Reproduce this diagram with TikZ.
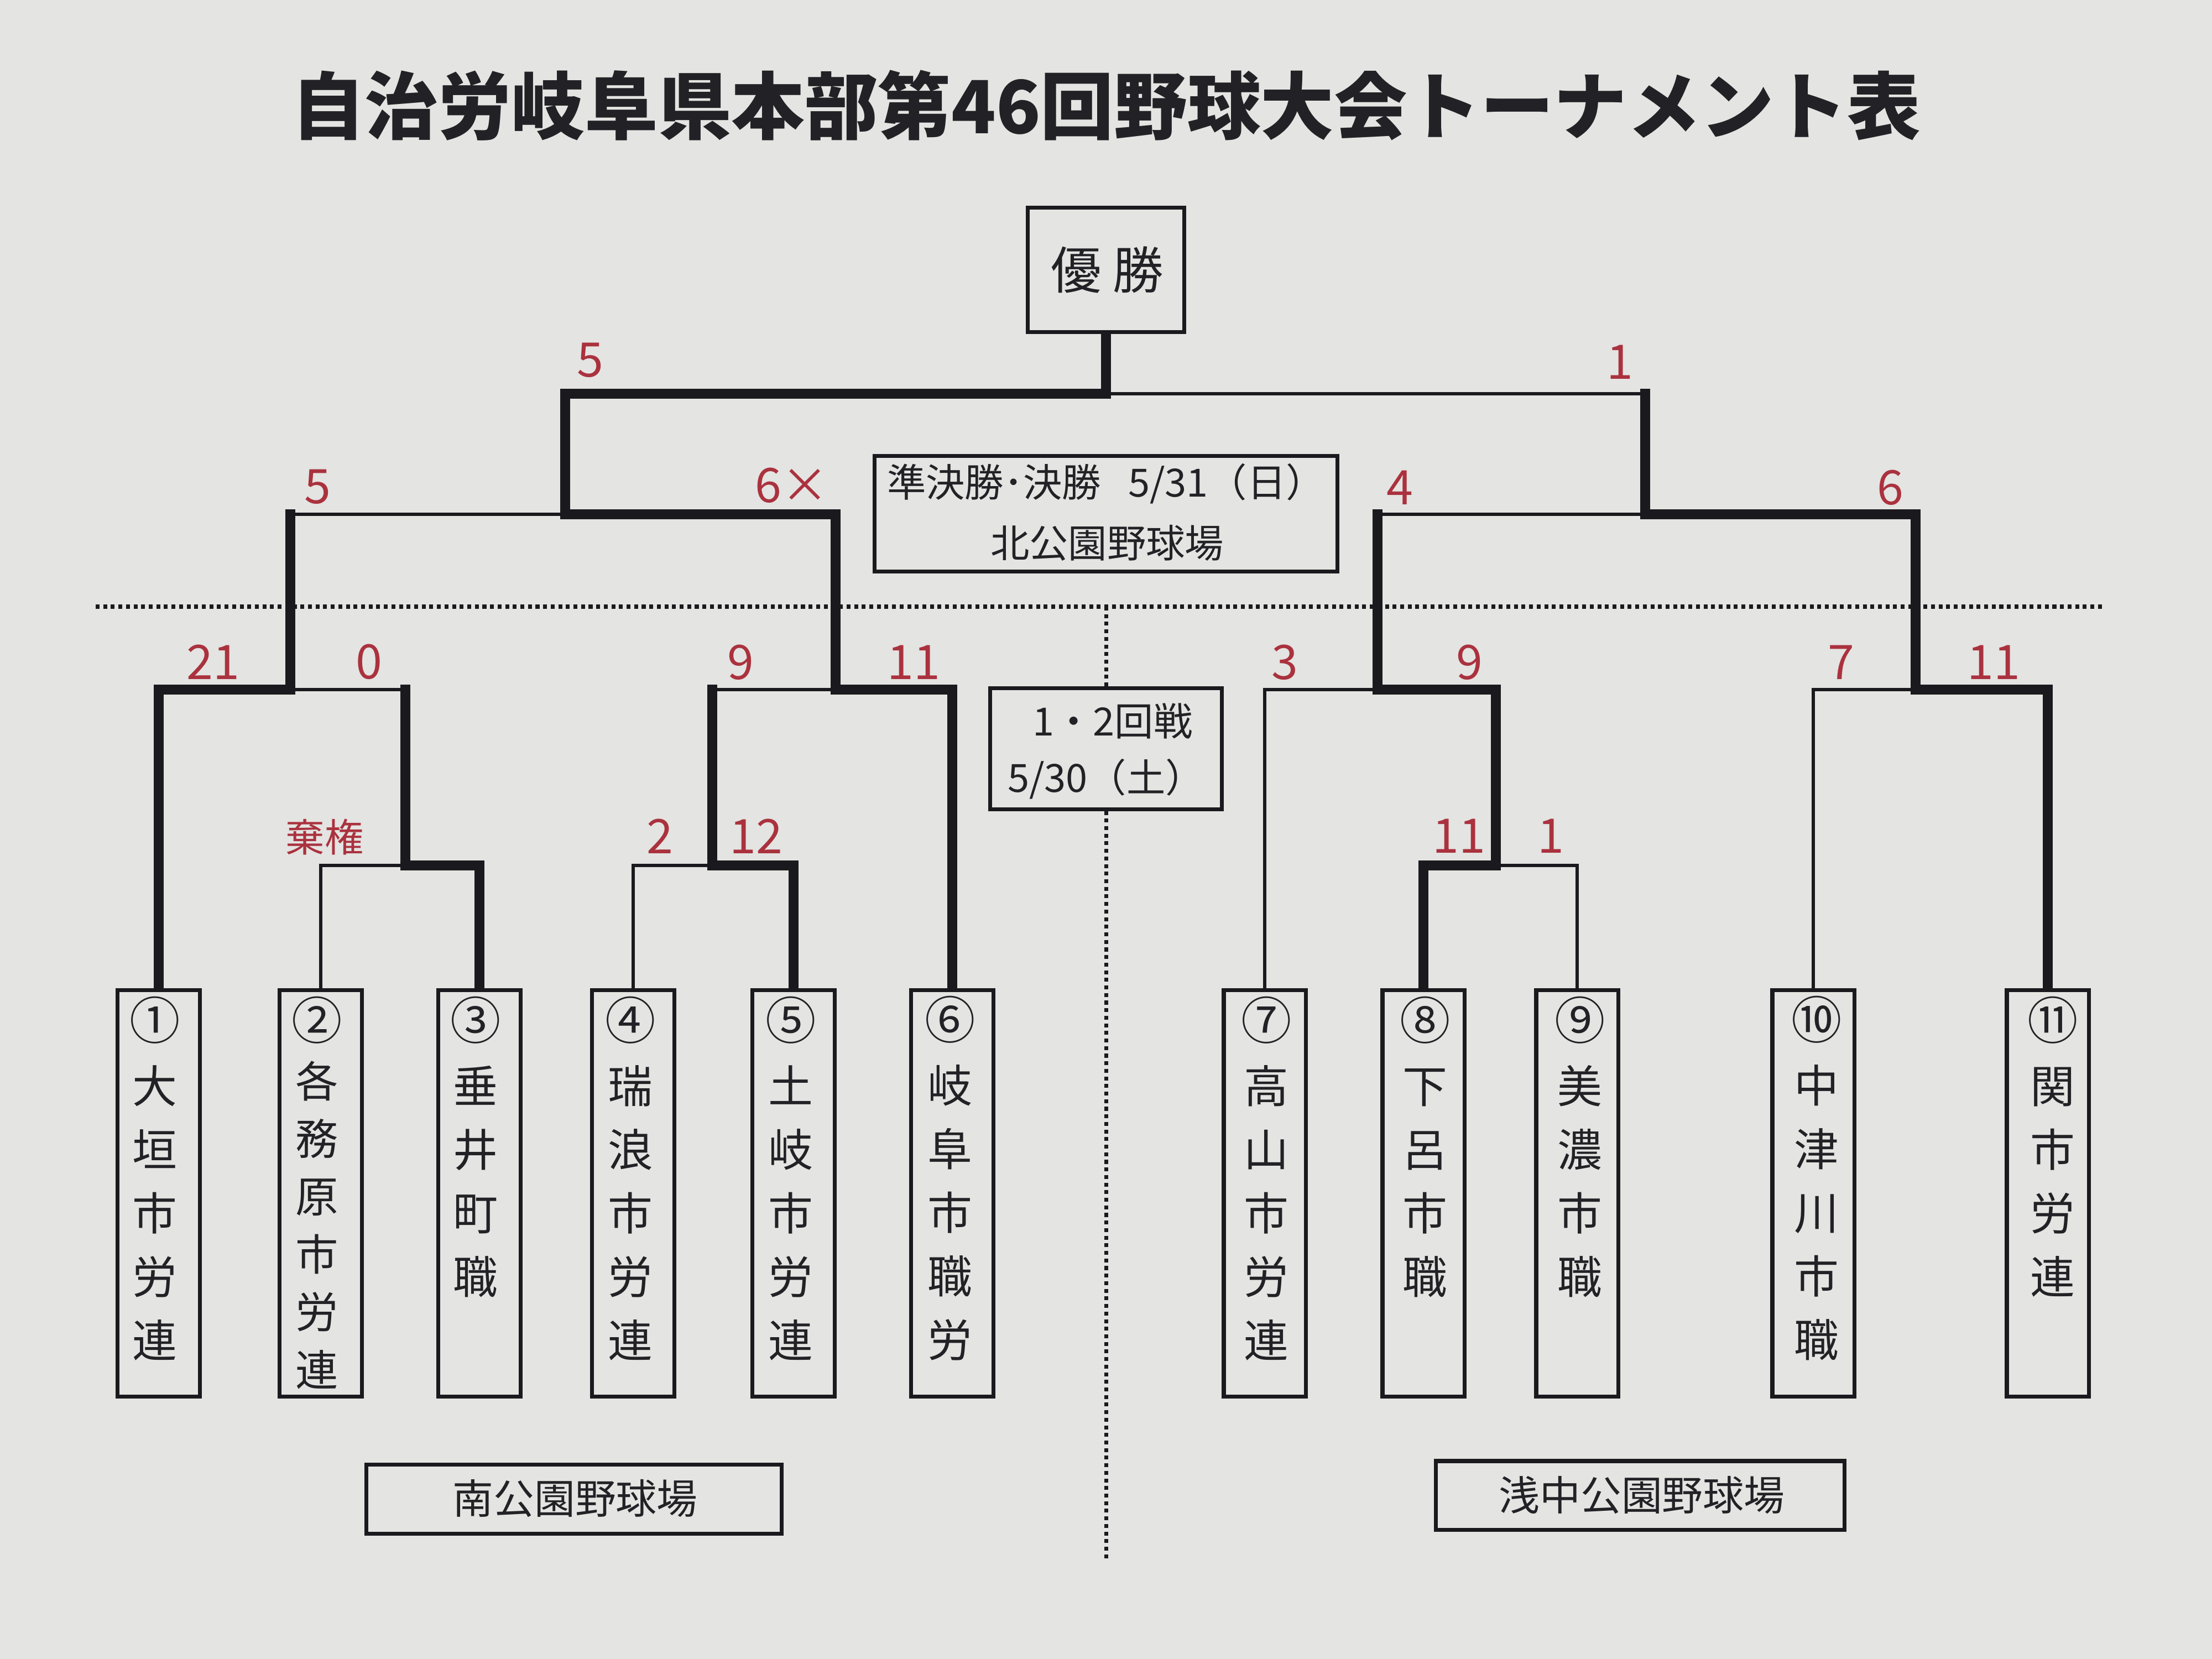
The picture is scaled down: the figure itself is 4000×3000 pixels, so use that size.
\documentclass[tikz,border=0pt]{standalone}
\usepackage{fontspec}
\newfontfamily\cjk{Noto Sans CJK JP}
\usetikzlibrary{calc}
\definecolor{paper}{RGB}{228,228,226}
\definecolor{ink}{RGB}{26,26,30}
\definecolor{txt}{RGB}{34,34,38}
\definecolor{scorered}{RGB}{170,50,62}
\newcommand\fsz[2]{\fontsize{#1}{#2}\selectfont}
\newcommand\circnum[1]{{\fontsize{26}{32}\selectfont #1}}
\pgfdeclarelayer{paperlayer}
\pgfdeclarelayer{lines}
\pgfsetlayers{paperlayer,lines,main}
\begin{document}
\begin{tikzpicture}[x=0.01cm,y=-0.01cm,
  win/.style={draw=ink,line width=5pt,line cap=rect,line join=miter},
  lose/.style={draw=ink,line width=1.8pt,line cap=rect,line join=miter},
  dots/.style={draw=ink,line width=2pt,dash pattern=on 2pt off 1.9pt},
  teambox/.style={draw=ink,fill=paper,line width=2pt,minimum width=1.48cm,minimum height=7.35cm,inner sep=0pt},
  teamname/.style={font=\cjk\fsz{23}{32.7},text=txt,align=center,inner sep=0pt},
  teamnamesm/.style={font=\cjk\fsz{22}{29.7},text=txt,align=center,inner sep=0pt},
  infobox/.style={draw=ink,fill=paper,line width=2pt,inner sep=0pt},
  info/.style={font=\cjk\fsz{20}{24},text=txt,inner sep=0pt},
  score/.style={font=\cjk\fsz{24.5}{28},text=scorered,inner sep=0pt},
  scoresm/.style={font=\cjk\fsz{20}{24},text=scorered,inner sep=0pt}]

\begin{pgfonlayer}{paperlayer}
\fill[paper] (0,0) rectangle (4000,3000);
\end{pgfonlayer}
\useasboundingbox (0,0) rectangle (4000,3000);

% title
\node[font=\cjk\bfseries\fsz{37.7}{40},text=txt,inner sep=0pt] (title) at (2000,191) {自治労岐阜県本部第46回野球大会トーナメント表};

% champion box
\node[infobox,minimum width=2.83cm,minimum height=2.24cm] (champ) at (2000,488) {};
\node[font=\cjk\fsz{26}{30},text=txt,inner sep=0pt] (champtxt) at (2002,488) {優 勝};

% info boxes
\node[infobox,minimum width=8.36cm,minimum height=2.09cm] (sfbox) at (2000,929) {};
\node[info] (sf1) at (2000,875) {準決勝･決勝\hspace{0.7em}5/31（日）};
\node[info] (sf2) at (2002,982) {北公園野球場};

\node[infobox,minimum width=4.18cm,minimum height=2.18cm] (rnd) at (2000,1354) {};
\node[info] (rnd1) at (2012,1304) {1・2回戦};
\node[info] (rnd2) at (2000,1409) {5/30（土）};

\node[infobox,minimum width=7.5cm,minimum height=1.25cm] (south) at (1038,2711) {};
\node[info,font=\cjk\fsz{21}{24}] (southtxt) at (1040,2710) {南公園野球場};
\node[infobox,minimum width=7.38cm,minimum height=1.24cm] (asanaka) at (2966,2704) {};
\node[info,font=\cjk\fsz{21}{24}] (asanakatxt) at (2969,2704) {浅中公園野球場};

% team boxes
\node[teambox] (t1) at (287,2158) {};
\node[teambox] (t2) at (580,2158) {};
\node[teambox] (t3) at (867,2158) {};
\node[teambox] (t4) at (1145,2158) {};
\node[teambox] (t5) at (1435,2158) {};
\node[teambox] (t6) at (1722,2158) {};
\node[teambox] (t7) at (2287,2158) {};
\node[teambox] (t8) at (2574,2158) {};
\node[teambox] (t9) at (2852,2158) {};
\node[teambox] (t10) at (3279,2158) {};
\node[teambox] (t11) at (3703,2158) {};

\node[teamname] (n1) at (280,2131) {\circnum{①}\\大\\垣\\市\\労\\連};
\node[teamnamesm] (n2) at (573,2157) {\circnum{②}\\各\\務\\原\\市\\労\\連};
\node[teamname] (n3) at (860,2074) {\circnum{③}\\垂\\井\\町\\職};
\node[teamname] (n4) at (1140,2131) {\circnum{④}\\瑞\\浪\\市\\労\\連};
\node[teamname] (n5) at (1430,2131) {\circnum{⑤}\\土\\岐\\市\\労\\連};
\node[teamname] (n6) at (1718,2131) {\circnum{⑥}\\岐\\阜\\市\\職\\労};
\node[teamname] (n7) at (2290,2131) {\circnum{⑦}\\高\\山\\市\\労\\連};
\node[teamname] (n8) at (2577,2074) {\circnum{⑧}\\下\\呂\\市\\職};
\node[teamname] (n9) at (2857,2074) {\circnum{⑨}\\美\\濃\\市\\職};
\node[teamname] (n10) at (3285,2131) {\circnum{⑩}\\中\\津\\川\\市\\職};
\node[teamname] (n11) at (3712,2074) {\circnum{⑪}\\関\\市\\労\\連};

% junctions
\coordinate (a23) at (733,1565);
\coordinate (a45) at (1288,1565);
\coordinate (a89) at (2705,1565);
\coordinate (b1) at (525,1247);
\coordinate (b2) at (1511,1247);
\coordinate (b3) at (2491,1247);
\coordinate (b4) at (3464,1247);
\coordinate (c1) at (1022,930);
\coordinate (c2) at (2975,930);
\coordinate (d) at (2000,712);
\coordinate (dotL) at (173,1097);
\coordinate (dotR) at (3806,1097);
\coordinate (dotM) at (2000,1097);
\coordinate (dotB) at (2000,2819);

\begin{pgfonlayer}{lines}
\draw[dots] (dotL) -- (dotR);
\draw[dots] (dotM) -- (rnd.north);
\draw[dots] (rnd.south) -- (dotB);

\draw[lose] (t2.north) |- (a23);
\draw[win] (t3.north) |- (a23);
\draw[win] (a23) -- (a23 |- b1);
\draw[lose] (a23 |- b1) -- (b1);
\draw[win] (t1.north) |- (b1);
\draw[win] (b1) -- (b1 |- c1);
\draw[lose] (b1 |- c1) -- (c1);
\draw[lose] (t4.north) |- (a45);
\draw[win] (t5.north) |- (a45);
\draw[win] (a45) -- (a45 |- b2);
\draw[lose] (a45 |- b2) -- (b2);
\draw[win] (t6.north) |- (b2);
\draw[win] (b2) |- (c1);
\draw[win] (c1) |- (d);
\draw[win] (d) -- (champ.south);
\draw[win] (c2) -- (c2 |- d);
\draw[lose] (c2 |- d) -- (d);
\draw[win] (b3) -- (b3 |- c2);
\draw[lose] (b3 |- c2) -- (c2);
\draw[win] (b4) |- (c2);
\draw[lose] (t7.north) |- (b3);
\draw[win] (t8.north) |- (a89);
\draw[lose] (t9.north) |- (a89);
\draw[win] (a89) |- (b3);
\draw[lose] (t10.north) |- (b4);
\draw[win] (t11.north) |- (b4);
\end{pgfonlayer}

% scores
\node[score] (sf_l) at (1067,651) {5};
\node[score] (sf_r) at (2929,655) {1};
\node[score] (ss1) at (574,880) {5};
\node[score] (ss2) at (1432,878) {6×};
\node[score] (ss3) at (2531,882) {4};
\node[score] (ss4) at (3418,882) {6};
\node[score] (sb1) at (385,1197) {21};
\node[score] (sb2) at (667,1197) {0};
\node[score] (sb3) at (1339,1198) {9};
\node[score] (sb4) at (1652,1198) {11};
\node[score] (sb5) at (2323,1198) {3};
\node[score] (sb6) at (2657,1198) {9};
\node[score] (sb7) at (3329,1198) {7};
\node[score] (sb8) at (3605,1198) {11};
\node[scoresm] (sa1) at (587,1514) {棄権};
\node[score] (sa2) at (1193,1512) {2};
\node[score] (sa3) at (1367,1512) {12};
\node[score] (sa4) at (2638,1512) {11};
\node[score] (sa5) at (2804,1512) {1};
\end{tikzpicture}
\end{document}
